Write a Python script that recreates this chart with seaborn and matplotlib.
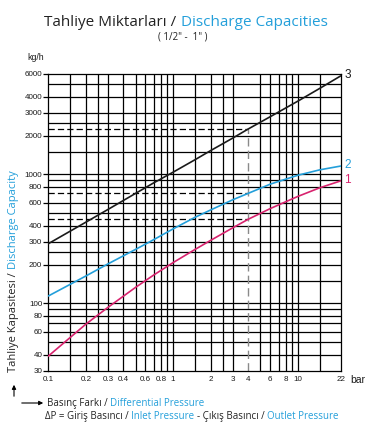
import matplotlib
matplotlib.use("Agg")
import matplotlib.pyplot as plt
from matplotlib.ticker import FixedLocator, NullLocator
import pandas as pd
import seaborn as sns

# values (kg/h vs bar)
pressure = [0.1, 0.2, 0.3, 0.5, 0.7, 1, 1.5, 2, 3, 4, 6, 10, 15, 22]
capacity_1 = [39, 69, 93, 133, 166, 207, 262, 308, 385, 449, 543, 675, 788, 890]
capacity_2 = [114, 163, 202, 262, 312, 378, 465, 530, 635, 713, 840, 985, 1085, 1160]
capacity_3 = [290, 426, 534, 712, 860, 1040, 1300, 1530, 1910, 2250, 2800, 3700, 4650, 5800]
curve_names = ["1", "2", "3"]

x_ticks = [0.1, 0.2, 0.3, 0.4, 0.6, 0.8, 1, 2, 3, 4, 6, 8, 10, 22]
x_labels = ["0.1", "0.2", "0.3", "0.4", "0.6", "0.8", "1", "2", "3", "4", "6", "8", "10", "22"]
y_ticks = [30, 40, 60, 80, 100, 200, 300, 400, 600, 800, 1000, 2000, 3000, 4000, 6000]
x_grid = [0.15, 0.2, 0.25, 0.3, 0.4, 0.5, 0.6, 0.7, 0.8, 0.9, 1, 1.5, 2, 2.5, 3, 5, 6, 7, 8, 9, 10, 15]
y_grid = [40, 50, 60, 70, 80, 90, 100, 150, 200, 250, 300, 400, 500, 600, 800, 900, 1000,
          1500, 2000, 2500, 3000, 4000, 5000]

ref_pressure = 4
ref_levels = [449, 713, 2250]

PINK = "#d8236e"
BLUE = "#239fda"
DARK = "#1a1a1a"

df = pd.DataFrame({
    "pressure": pressure * 3,
    "capacity": capacity_1 + capacity_2 + capacity_3,
    "size": [n for n in curve_names for _ in pressure],
})

sns.set_theme(style="white")
plt.rcParams["font.family"] = ["Open Sans", "DejaVu Sans"]

W, H = 371, 436
fig = plt.figure(figsize=(W / 100, H / 100), dpi=100)
ax = fig.add_axes([48.3 / W, 1 - 370.8 / H, (340.7 - 48.3) / W, (370.8 - 74) / H])
ax.set_xscale("log")
ax.set_yscale("log")
ax.set_xlim(0.1, 22)
ax.set_ylim(30, 6000)

for gx in x_grid:
    ax.axvline(gx, color="black", lw=0.9, zorder=1)
for gy in y_grid:
    ax.axhline(gy, color="black", lw=0.9, zorder=1)
for sp in ax.spines.values():
    sp.set_color("black")
    sp.set_linewidth(0.9)

# reading guides at 4 bar
for lvl in ref_levels:
    ax.plot([0.1, ref_pressure], [lvl, lvl], color="black", lw=0.9,
            dashes=(5, 2.5), zorder=2)
ax.plot([ref_pressure, ref_pressure], [30, max(ref_levels)], color="#8a8a8a", lw=1.0,
        dashes=(6, 3), zorder=2)

sns.lineplot(data=df, x="pressure", y="capacity", hue="size",
             palette={"1": PINK, "2": BLUE, "3": DARK}, lw=1.2,
             legend=False, ax=ax, zorder=3)

for name, vals, col in zip(curve_names, [capacity_1, capacity_2, capacity_3], [PINK, BLUE, DARK]):
    ax.annotate(name, (pressure[-1], vals[-1]), xytext=(2.5, 0.5), textcoords="offset points",
                color=col, fontsize=8.5, va="center", ha="left", annotation_clip=False,
                family=["Liberation Sans", "DejaVu Sans"])

ax.xaxis.set_major_locator(FixedLocator(x_ticks))
ax.xaxis.set_minor_locator(NullLocator())
ax.set_xticklabels(x_labels)
ax.yaxis.set_major_locator(FixedLocator(y_ticks))
ax.yaxis.set_minor_locator(NullLocator())
ax.set_yticklabels([str(v) for v in y_ticks])
ax.tick_params(axis="x", length=0, pad=4, labelsize=5.8, labelcolor=DARK)
ax.tick_params(axis="y", length=3.5, width=0.9, pad=0.8, labelsize=5.8, labelcolor=DARK,
               left=True, color="black")
for lab in ax.get_xticklabels() + ax.get_yticklabels():
    lab.set_family(["Liberation Sans", "DejaVu Sans"])
ax.set_xlabel("")
ax.set_ylabel("")

renderer = fig.canvas.get_renderer()


def text_width(s, size, rotation=0):
    t = fig.text(0, 0, s, fontsize=size, rotation=rotation, transform=None)
    bb = t.get_window_extent(renderer)
    t.remove()
    return bb.height if rotation else bb.width


def colored_line(x, y, parts, size, center=False, rotation=0):
    space = text_width("x x", size) - text_width("xx", size)
    widths = [text_width(s, size, rotation) for s, _ in parts]
    total = sum(widths) + space * (len(parts) - 1)
    start = y if rotation else x
    pos = start - total / 2 if center else start
    for (s, c), w in zip(parts, widths):
        if rotation:
            fig.text(x, pos, s, color=c, fontsize=size, rotation=90, transform=None,
                     ha="center", va="bottom")
        else:
            fig.text(pos, y, s, color=c, fontsize=size, transform=None,
                     ha="left", va="center")
        pos += w + space


colored_line(186, H - 22, [("Tahliye Miktarları /", "#222222"),
                           ("Discharge Capacities", BLUE)], 11, center=True)
fig.text(183, H - 37, '( 1/2" -  1" )', fontsize=7, color="#222222", ha="center",
         va="center", transform=None)
fig.text(27, H - 57, "kg/h", fontsize=6.3, color=DARK, ha="left", va="center",
         transform=None, family=["Liberation Sans", "DejaVu Sans"])
fig.text(350, H - 380, "bar", fontsize=7.5, color=DARK, ha="left", va="center",
         transform=None, family=["Liberation Sans", "DejaVu Sans"])

# y axis title with arrow
colored_line(14, H - 372, [("Tahliye Kapasitesi /", "#222222"),
                           ("Discharge Capacity", BLUE)], 8, rotation=90)
ax.annotate("", xy=(14, H - 382), xytext=(14, H - 399), xycoords="figure pixels",
            textcoords="figure pixels",
            arrowprops=dict(arrowstyle="-|>", color="black", lw=0.8, mutation_scale=6))

# x axis title with arrow
ax.annotate("", xy=(46, H - 403), xytext=(19, H - 403), xycoords="figure pixels",
            textcoords="figure pixels",
            arrowprops=dict(arrowstyle="-|>", color="black", lw=0.8, mutation_scale=6))
colored_line(47, H - 403, [("Basınç Farkı /", "#222222"),
                           ("Differential Pressure", BLUE)], 7)
colored_line(45, H - 416, [("ΔP = Giriş Basıncı /", "#222222"),
                           ("Inlet Pressure", BLUE),
                           ("- Çıkış Basıncı /", "#222222"),
                           ("Outlet Pressure", BLUE)], 7)

fig.savefig("out.png", dpi=100)
